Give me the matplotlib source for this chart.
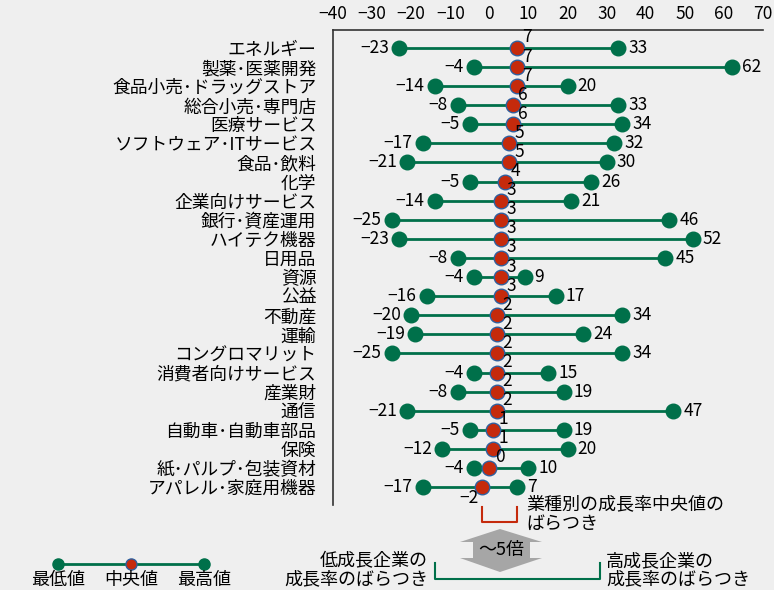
import matplotlib.pyplot as plt
from matplotlib.patches import Polygon
from matplotlib.lines import Line2D

plt.rcParams['font.family'] = ['Noto Sans CJK JP', 'DejaVu Sans']

# data
sectors = ['エネルギー', '製薬･医薬開発', '食品小売･ドラッグストア', '総合小売･専門店', '医療サービス',
           'ソフトウェア･ITサービス', '食品･飲料', '化学', '企業向けサービス', '銀行･資産運用',
           'ハイテク機器', '日用品', '資源', '公益', '不動産', '運輸', 'コングロマリット',
           '消費者向けサービス', '産業財', '通信', '自動車･自動車部品', '保険',
           '紙･パルプ･包装資材', 'アパレル･家庭用機器']
low = [-23, -4, -14, -8, -5, -17, -21, -5, -14, -25, -23, -8, -4, -16, -20, -19, -25, -4, -8, -21, -5, -12, -4, -17]
median = [7, 7, 7, 6, 6, 5, 5, 4, 3, 3, 3, 3, 3, 3, 2, 2, 2, 2, 2, 2, 1, 1, 0, -2]
high = [33, 62, 20, 33, 34, 32, 30, 26, 21, 46, 52, 45, 9, 17, 34, 24, 34, 15, 19, 47, 19, 20, 10, 7]
xticks = [-40, -30, -20, -10, 0, 10, 20, 30, 40, 50, 60, 70]

green = '#00704a'
red = '#c52a0c'
edge = '#2f5f9e'
bg = '#efefef'

W, H = 774, 590
fig = plt.figure(figsize=(W / 100, H / 100), dpi=100, facecolor=bg)
ax = fig.add_axes([333 / W, 1 - 505 / H, (763 - 333) / W, (505 - 30) / H], facecolor=bg)

y = list(range(len(sectors)))
ax.hlines(y, low, high, color=green, lw=2, zorder=1)
ax.scatter(low, y, s=110, color=green, zorder=2)
ax.scatter(high, y, s=110, color=green, zorder=2)
ax.scatter(median, y, s=110, color=red, edgecolor=edge, linewidth=1, zorder=3)

for i in y:
    ax.text(low[i] - 2.6, i, f'{low[i]}'.replace('-', '−'), ha='right', va='center', fontsize=12.5)
    ax.text(high[i] + 2.6, i, f'{high[i]}', ha='left', va='center', fontsize=12.5)
    if median[i] < 0:
        ax.text(median[i] - 0.8, i + 0.55, f'{median[i]}'.replace('-', '−'), ha='right', va='center', fontsize=12.5)
    else:
        ax.text(median[i] + 1.4, i - 0.55, f'{median[i]}', ha='left', va='center', fontsize=12.5)

ax.set_xlim(-40, 70)
ax.set_ylim(len(sectors) - 1 + 0.94, -0.94)
ax.xaxis.tick_top()
ax.set_xticks(xticks)
ax.tick_params(axis='x', length=0, labelsize=12.5, pad=5)
ax.set_yticks(y)
ax.set_yticklabels(sectors, fontsize=12.8)
ax.tick_params(axis='y', length=0, pad=12)
for s in ['right', 'bottom']:
    ax.spines[s].set_visible(False)
for s in ['top', 'left']:
    ax.spines[s].set_color('#333333')
    ax.spines[s].set_linewidth(1.2)


# annotations below the chart, placed in pixel coordinates of the figure
def px(x, yy):
    return (x / W, 1 - yy / H)


tf = fig.transFigure
# red bracket
fig.add_artist(Line2D([482 / W, 482 / W, 517 / W, 517 / W],
                      [1 - 507 / H, 1 - 522 / H, 1 - 522 / H, 1 - 507 / H],
                      color=red, lw=1.5, transform=tf))
fig.text(*px(526, 514), '業種別の成長率中央値の\nばらつき', ha='left', va='center',
         fontsize=13, linespacing=1.1, transform=tf)

# gray double arrow
arrow = [(500, 529), (542, 542), (530, 542), (530, 558), (542, 558), (500, 572),
         (460, 558), (473, 558), (473, 542), (460, 542)]
fig.add_artist(Polygon([px(a, b) for a, b in arrow], closed=True, facecolor='#a6a6a6',
                       edgecolor='none', transform=tf))
fig.text(*px(501, 550), '～5倍', ha='center', va='center', fontsize=13, transform=tf)

# green bracket
fig.add_artist(Line2D([435 / W, 435 / W, 600 / W, 600 / W],
                      [1 - 563 / H, 1 - 579 / H, 1 - 579 / H, 1 - 563 / H],
                      color=green, lw=1.5, transform=tf))
fig.text(*px(428, 570), '低成長企業の\n成長率のばらつき', ha='right', va='center',
         fontsize=13, linespacing=1.02, transform=tf)
fig.text(*px(606, 570), '高成長企業の\n成長率のばらつき', ha='left', va='center',
         fontsize=13, linespacing=1.02, transform=tf)

# legend
fig.add_artist(Line2D([58 / W, 204 / W], [1 - 564 / H, 1 - 564 / H], color=green, lw=2, transform=tf))
fig.add_artist(Line2D([58 / W, 204 / W], [1 - 564 / H, 1 - 564 / H], color=green, lw=0,
                      marker='o', markersize=8, markevery=[0, 1], transform=tf))
fig.add_artist(Line2D([131 / W], [1 - 564 / H], color=red, lw=0, marker='o', markersize=8,
                      markeredgecolor=edge, markeredgewidth=1, transform=tf))
for xx, lab in zip([58, 131, 204], ['最低値', '中央値', '最高値']):
    fig.text(*px(xx, 580), lab, ha='center', va='center', fontsize=13, transform=tf)

fig.savefig('out.png', dpi=100, facecolor=bg)
